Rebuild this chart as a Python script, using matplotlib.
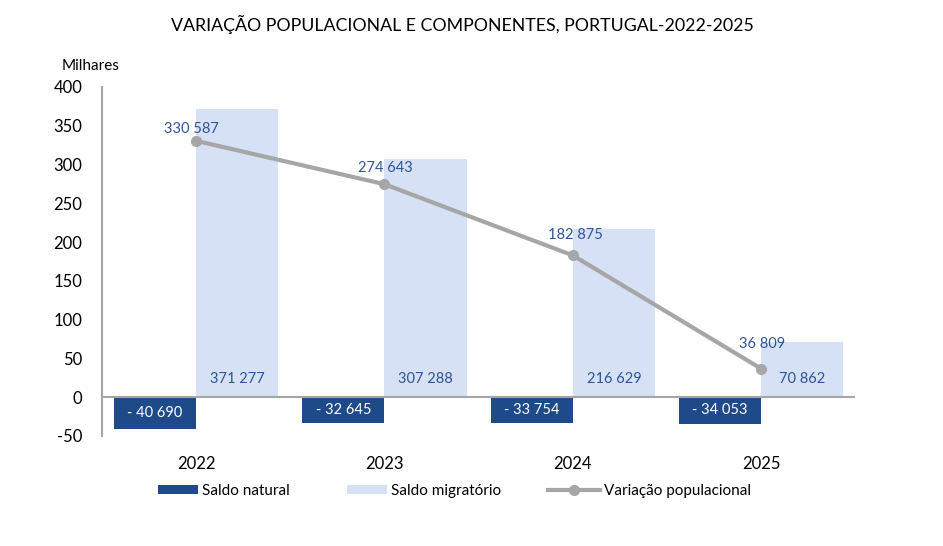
import numpy as np
import matplotlib.pyplot as plt

plt.rcParams['font.family'] = ['Lato', 'DejaVu Sans']
plt.rcParams['axes.unicode_minus'] = False

anos = ['2022', '2023', '2024', '2025']
saldo_natural = [-40690, -32645, -33754, -34053]
saldo_migratorio = [371277, 307288, 216629, 70862]
variacao = [330587, 274643, 182875, 36809]

# deslocamento dos rótulos da linha (pontos)
desloc_x = [-3, 0.7, 2, 0.7]
desloc_y = [8.6, 11.5, 14.4, 18]

def fmt(v):
    s = '{:,}'.format(abs(v)).replace(',', ' ')
    return '- ' + s if v < 0 else s

azul = '#1F4A8A'
azul_claro = '#D6E1F5'
cinza = '#A6A6A6'
texto = '#2F5597'

x = np.arange(len(anos))
w = 0.436
nat = np.array(saldo_natural) / 1000
mig = np.array(saldo_migratorio) / 1000
var = np.array(variacao) / 1000

fig = plt.figure(figsize=(9.43, 5.46), dpi=100)
ax = fig.add_axes([0.108, 0.2015, 0.799, 0.6392])

b1 = ax.bar(x - w/2, nat, w, color=azul, label='Saldo natural', zorder=2)
b2 = ax.bar(x + w/2, mig, w, color=azul_claro, label='Saldo migratório', zorder=1)
l1, = ax.plot(x, var, color=cinza, lw=3, marker='o', ms=7, label='Variação populacional', zorder=4)
ax.axhline(0, color=cinza, lw=1.5, zorder=3)

for xi, v in zip(x, saldo_natural):
    ax.text(xi - w/2, v / 2000, fmt(v), color='white', ha='center', va='center', fontsize=10.5, zorder=5)
for xi, v in zip(x, saldo_migratorio):
    ax.annotate(fmt(v), (xi + w/2, 0), xytext=(0, 13), textcoords='offset points',
                color=texto, ha='center', va='center', fontsize=10.5, zorder=5)
for xi, v, dx, dy in zip(x, variacao, desloc_x, desloc_y):
    ax.annotate(fmt(v), (xi, v / 1000), xytext=(dx, dy), textcoords='offset points',
                color=texto, ha='center', va='center', fontsize=10.5, zorder=5)

ax.set_xlim(-0.5, 3.5)
ax.set_ylim(-50, 400)
ax.set_yticks(range(-50, 401, 50))
ax.set_xticks(x)
ax.set_xticklabels(anos)
ax.tick_params(axis='both', length=0, labelsize=12)
ax.tick_params(axis='x', pad=14.5)
ax.tick_params(axis='y', pad=14)
for s in ['top', 'right', 'bottom']:
    ax.spines[s].set_visible(False)
ax.spines['left'].set_color(cinza)
ax.spines['left'].set_linewidth(1.5)

fig.text(0.065, 0.879, 'Milhares', fontsize=11, va='center')
fig.text(0.49, 0.955, 'VARIAÇÃO POPULACIONAL E COMPONENTES, PORTUGAL-2022-2025',
         ha='center', va='center', fontsize=12.8)

# legendas separadas para posicionar cada entrada
for h, x0, hl in [(b1, 158, 2.6), (b2, 347, 2.6), (l1, 548, 3.4)]:
    lg = fig.legend(handles=[h], loc='center left', bbox_to_anchor=(x0 / 943, 1 - 491 / 546),
                    frameon=False, fontsize=11, handlelength=hl, handleheight=0.6,
                    handletextpad=0.25, borderpad=0, borderaxespad=0)

fig.savefig('out.png', dpi=100)
